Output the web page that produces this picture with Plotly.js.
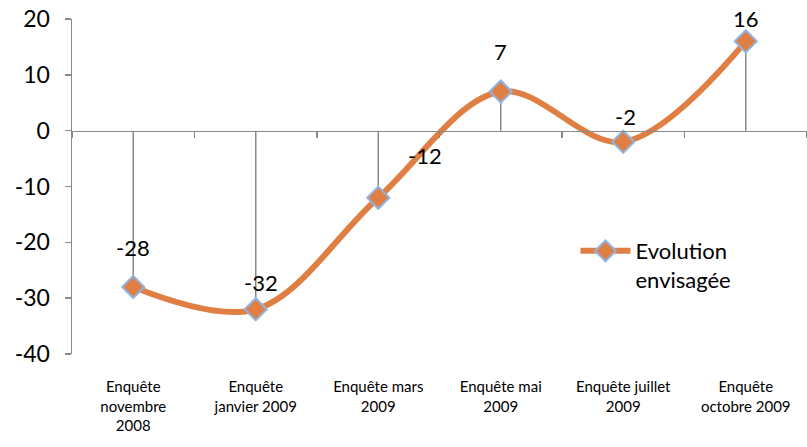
<!DOCTYPE html>
<html>
<head>
<meta charset="utf-8">
<script src="https://cdn.plot.ly/plotly-3.0.1.min.js"></script>
<style>html,body{margin:0;padding:0;background:#fff;}#chart{width:807px;height:447px;}</style>
</head>
<body>
<div id="chart"></div>
<script>
// Data
const categories = ["nov2008", "jan2009", "mar2009", "mai2009", "jul2009", "oct2009"];
const tickLabels = ["Enquête<br>novembre<br>2008", "Enquête<br>janvier 2009", "Enquête mars<br>2009", "Enquête mai<br>2009", "Enquête juillet<br>2009", "Enquête<br>octobre 2009"];
const values = [-28, -32, -12, 7, -2, 16];
const yTicks = [-40, -30, -20, -10, 0, 10, 20];
const seriesName = "Evolution<br>envisagée";
// label placement offsets (px) as in the reference
const labelDx = [0, 5, 47, 0, 2, 0];
const labelDy = [40, 27, 42, 40, 25, 23];

const FONT = "Lato, 'Open Sans', sans-serif";
const GRAY = "#898989";
const ORANGE = "#E07F44";

// drop lines from each point to zero
const dropX = [], dropY = [];
categories.forEach((c, i) => { dropX.push(c, c, null); dropY.push(0, values[i], null); });

const traces = [
  {
    x: dropX, y: dropY, type: "scatter", mode: "lines",
    line: {color: GRAY, width: 1.5}, hoverinfo: "skip", showlegend: false,
    xaxis: "x", yaxis: "y"
  },
  {
    x: categories, y: values, type: "scatter", mode: "lines+markers",
    name: seriesName,
    line: {color: ORANGE, width: 6, shape: "spline", smoothing: 1},
    marker: {symbol: "diamond", size: 17, color: ORANGE, line: {color: "#8EB4E3", width: 2}},
    xaxis: "x", yaxis: "y"
  },
  {
    // invisible trace carrying the zero-line axis
    x: categories, y: values, type: "scatter", mode: "none",
    showlegend: false, hoverinfo: "skip", xaxis: "x2", yaxis: "y"
  }
];

const annotations = values.map((v, i) => ({
  x: categories[i], y: v, xref: "x", yref: "y",
  text: String(v), showarrow: false,
  xshift: labelDx[i], yshift: labelDy[i],
  font: {family: FONT, size: 22, color: "#000"},
  xanchor: "center", yanchor: "middle"
}));

const layout = {
  width: 807, height: 447,
  margin: {l: 72, r: 0, t: 19, b: 93},
  paper_bgcolor: "#fff", plot_bgcolor: "#fff",
  font: {family: FONT, color: "#000"},
  showlegend: true,
  legend: {
    x: 0.685, y: 0.37, xanchor: "left", yanchor: "top",
    font: {family: FONT, size: 22, color: "#000"},
    valign: "top", bgcolor: "rgba(0,0,0,0)", itemwidth: 50
  },
  xaxis: {
    type: "category", categoryorder: "array", categoryarray: categories,
    tickvals: categories, ticktext: tickLabels,
    range: [-0.5, 5.5],
    showline: false, showgrid: false, zeroline: false,
    ticks: "outside", ticklen: 19, tickcolor: "rgba(0,0,0,0)",
    tickfont: {family: FONT, size: 15, color: "#000"},
    fixedrange: true
  },
  xaxis2: {
    type: "category", categoryorder: "array", categoryarray: categories,
    range: [-0.5, 5.5],
    overlaying: "x", anchor: "free", position: 2/3,
    showline: true, linecolor: GRAY, linewidth: 1.5,
    ticks: "outside", tickson: "boundaries", ticklen: 6, tickcolor: GRAY, tickwidth: 1.5,
    showticklabels: false, showgrid: false, zeroline: false
  },
  yaxis: {
    range: [-40, 20],
    tickvals: yTicks, ticktext: yTicks.map(String),
    showline: true, linecolor: GRAY, linewidth: 1.5,
    ticks: "outside", ticklen: 6, tickcolor: GRAY, tickwidth: 1.5,
    ticklabelstandoff: 10,
    showgrid: false, zeroline: false,
    tickfont: {family: FONT, size: 23, color: "#000"}
  },
  annotations: annotations
};

Plotly.newPlot("chart", traces, layout, {displayModeBar: false, staticPlot: true});
</script>
</body>
</html>
